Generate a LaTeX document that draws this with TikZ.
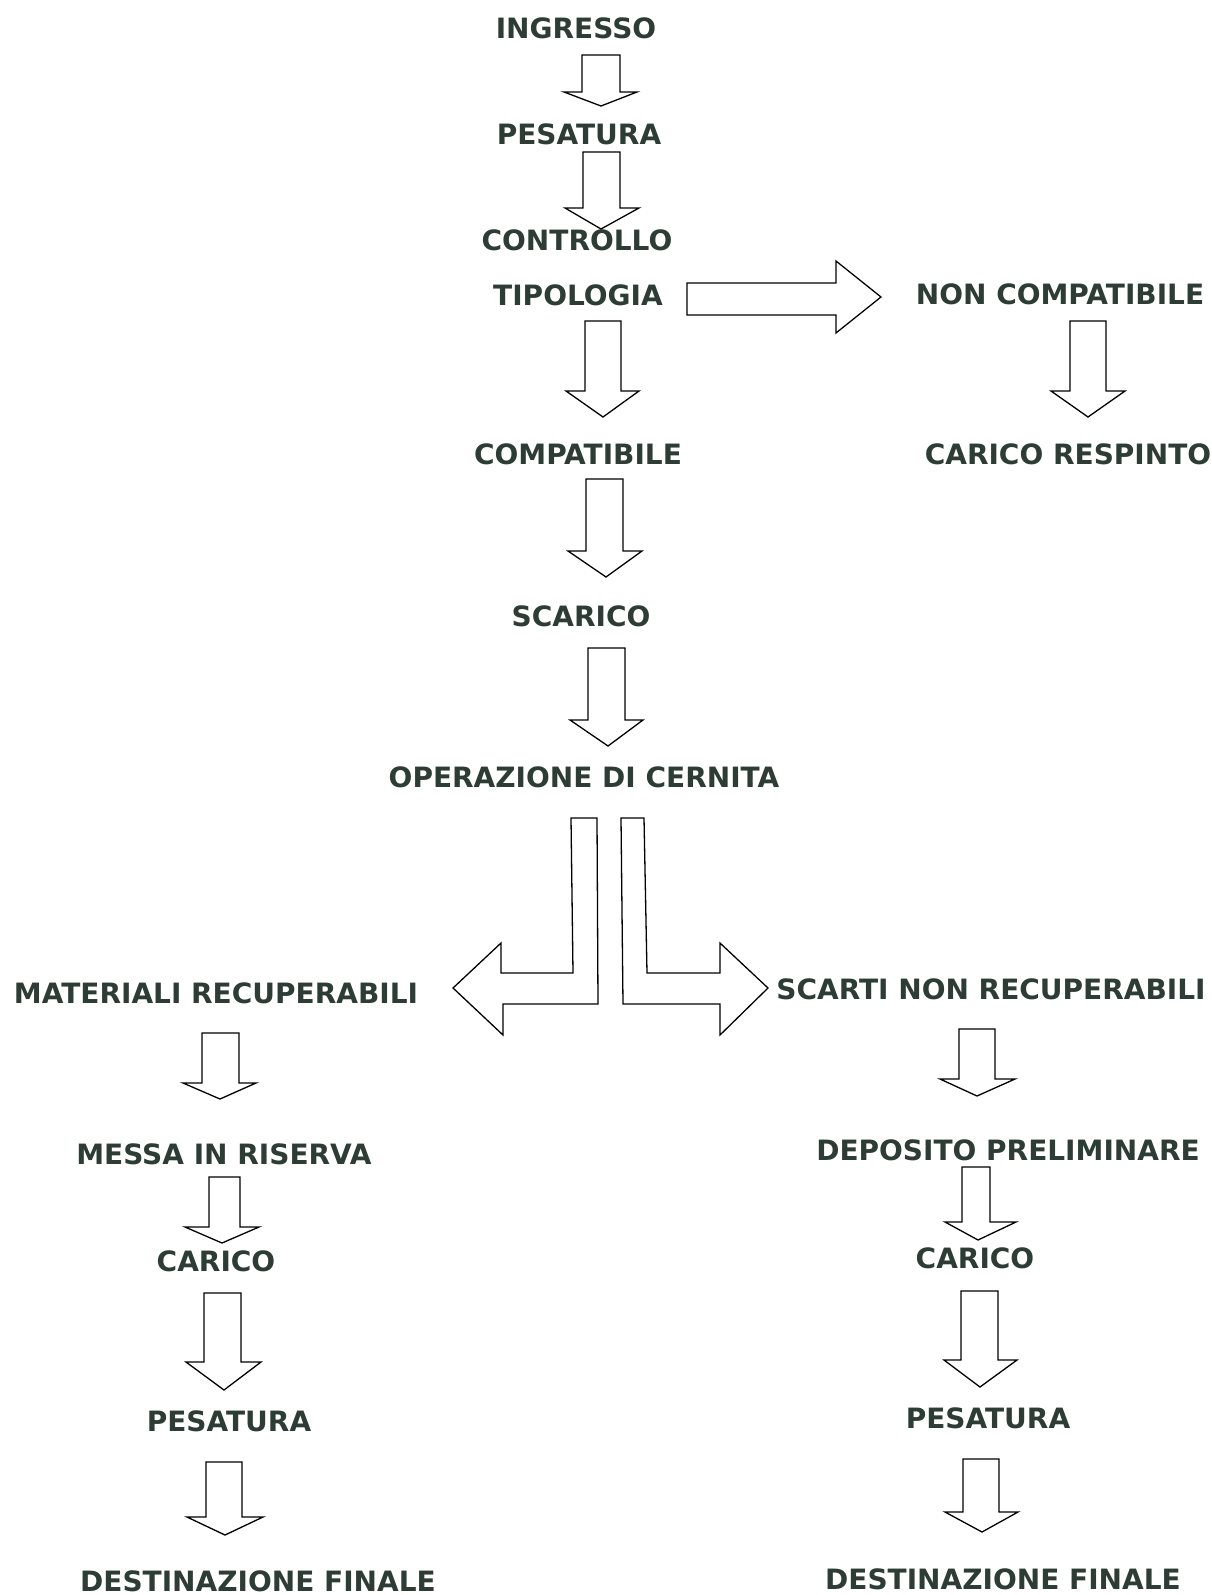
\documentclass[tikz,border=0pt]{standalone}
\usepackage{fontspec}
\setmainfont{DejaVu Sans}
\definecolor{txt}{RGB}{45,60,52}
\tikzset{
  lbl/.style={font=\bfseries\fontsize{28}{30}\selectfont, text=txt, inner sep=0pt},
  blk/.style={draw=black, line width=1.3pt, line join=miter, fill=white}
}
% down block arrow: shaftL, shaftR, top, wingY, wingL, wingR, tipX, tipY
\newcommand\dnarrow[8]{\draw[blk] (#1,#3) -- (#2,#3) -- (#2,#4) -- (#6,#4) -- (#7,#8) -- (#5,#4) -- (#1,#4) -- cycle;}
\begin{document}
\begin{tikzpicture}[x=1pt,y=-1pt]
\useasboundingbox[fill=white] (0,0) rectangle (1211,1595);

% labels
\node[lbl] (ing)  at (576,28)   {INGRESSO};
\node[lbl] (pes)  at (579,134)  {PESATURA};
\node[lbl] (con)  at (577,240)  {CONTROLLO};
\node[lbl] (tip)  at (578,295)  {TIPOLOGIA};
\node[lbl] (ncom) at (1060,294) {NON COMPATIBILE};
\node[lbl] (com)  at (578,454)  {COMPATIBILE};
\node[lbl] (resp) at (1068,454) {CARICO RESPINTO};
\node[lbl] (sca)  at (581,616)  {SCARICO};
\node[lbl] (cer)  at (584,777)  {OPERAZIONE DI CERNITA};
\node[lbl] (mat)  at (216,993)  {MATERIALI RECUPERABILI};
\node[lbl] (scr)  at (991,989)  {SCARTI NON RECUPERABILI};
\node[lbl] (mes)  at (224,1154) {MESSA IN RISERVA};
\node[lbl] (dep)  at (1008,1150){DEPOSITO PRELIMINARE};
\node[lbl] (carl) at (216,1261) {CARICO};
\node[lbl] (carr) at (975,1258) {CARICO};
\node[lbl] (pesl) at (229,1421) {PESATURA};
\node[lbl] (pesr) at (988,1418) {PESATURA};
\node[lbl] (dfl)  at (258,1581) {DESTINAZIONE FINALE};
\node[lbl] (dfr)  at (1003,1579){DESTINAZIONE FINALE};

% central column arrows
\dnarrow{582}{620}{55}{92}{564}{637}{601}{106}
\dnarrow{583}{620}{152}{208}{565}{639}{601}{229}
\dnarrow{585}{621}{321}{391}{566}{639}{603}{417}
\dnarrow{1070}{1106}{321}{391}{1051}{1125}{1088}{417}
\dnarrow{586}{623}{479}{551}{568}{642}{606}{577}
\dnarrow{588}{625}{648}{720}{570}{643}{608}{746}

% right arrow from TIPOLOGIA
\draw[blk] (687,283) -- (836,283) -- (836,261) -- (881,297) -- (836,333) -- (836,315) -- (687,315) -- cycle;

% split L-arrows
\draw[blk] (571,818) -- (597,818) -- (598,1004) -- (503,1004) -- (503,1035) -- (453,988) -- (501,943) -- (501,973) -- (573,973) -- cycle;
\draw[blk] (621,818) -- (644,818) -- (647,973) -- (720,973) -- (720,943) -- (768,988) -- (720,1035) -- (720,1004) -- (623,1004) -- cycle;

% left column
\dnarrow{202}{239}{1033}{1083}{183}{256}{220}{1099}
\dnarrow{209}{240}{1177}{1227}{185}{259}{222}{1243}
\dnarrow{204}{241}{1293}{1362}{186}{261}{224}{1390}
\dnarrow{206}{242}{1462}{1517}{187}{263}{225}{1535}

% right column
\dnarrow{959}{995}{1029}{1079}{940}{1015}{977}{1096}
\dnarrow{962}{990}{1167}{1222}{945}{1016}{978}{1240}
\dnarrow{961}{998}{1291}{1360}{944}{1017}{980}{1387}
\dnarrow{963}{999}{1459}{1512}{945}{1018}{982}{1532}
\end{tikzpicture}
\end{document}
